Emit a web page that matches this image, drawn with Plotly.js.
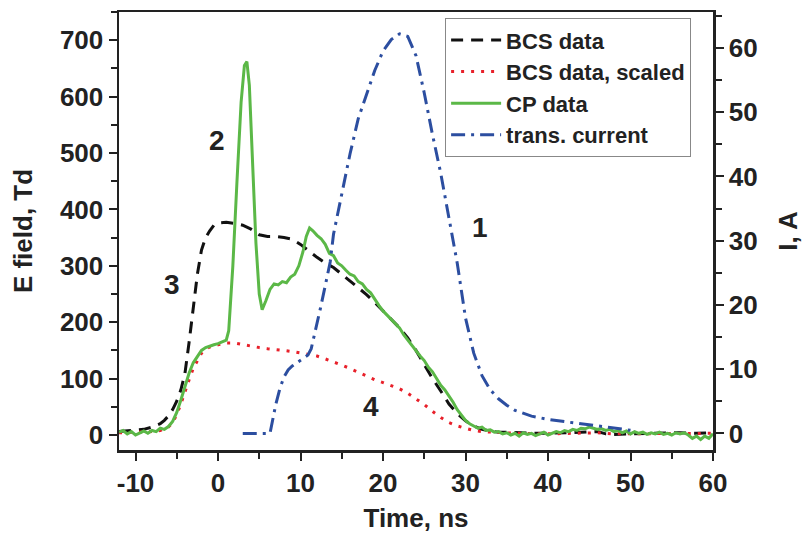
<!DOCTYPE html>
<html>
<head>
<meta charset="utf-8">
<script src="https://cdn.plot.ly/plotly-3.0.1.min.js"></script>
<style>html,body{margin:0;padding:0;background:#fff;}#chart{width:806px;height:533px;}</style>
</head>
<body>
<div id="chart"></div>
<script>
// BCS data (E field, Td)
const bcsTime = [-12,-11,-10,-9,-8,-7,-6.5,-6,-5.5,-5,-4.5,-4,-3.5,-3,-2.5,-2,-1.5,-1,-0.5,0,1,2,3,4,5,6,7,8,9,10,11,12,13,14,15,16,17,18,19,20,21,22,23,24,25,26,27,28,29,30,31,32,33,34,35,36,38,40,42,44,46,47,48,50,52,54,56,58,60];
const bcsField = [6,7,8,10,14,20,26,34,45,60,80,110,165,230,285,328,350,362,372,376,377,375,372,365,355,352,352,350,347,338,326,315,305,297,285,273,262,249,235,220,205,190,172,150,125,100,78,55,38,25,16,10,7,5,5,4,3,3,4,5,6,2,1,2,3,3,4,3,4];

// BCS data, scaled (E field, Td)
const bcsScaledTime = [-12,-10,-8,-7,-6,-5.5,-5,-4.5,-4,-3.5,-3,-2.5,-2,-1.5,-1,0,1,2,3,4,5,6,7,8,9,10,11,12,13,14,15,16,17,18,19,20,21,22,23,24,25,26,27,28,29,30,31,32,34,36,40,44,46,48,52,56,60];
const bcsScaledField = [4,5,6,8,14,22,36,55,78,98,118,133,145,152,156,160,163,163,160,157,155,153,152,150,148,145,142,140,135,130,124,118,111,104,98,93,88,82,74,64,54,42,31,22,16,12,8,6,4,3,2,3,4,2,2,2,3];

// CP data (E field, Td)
const cpTime = [-12,-11.5,-11,-10.5,-10,-9.5,-9,-8.5,-8,-7.5,-7,-6.5,-6,-5.5,-5,-4.5,-4,-3.5,-3,-2.5,-2,-1.5,-1,-0.5,0,0.5,1,1.3,1.8,2.3,2.8,3.2,3.5,3.8,4.2,4.6,5.0,5.35,5.8,6.3,6.8,7.3,7.8,8.3,8.8,9.3,9.8,10.3,10.7,11.1,11.5,12,12.5,13,13.5,14,14.5,15,15.5,16,16.5,17,17.5,18,18.5,19,19.5,20,20.5,21,21.5,22,22.5,23,23.5,24,24.5,25,25.5,26,26.5,27,27.5,28,28.5,29,29.5,30,30.5,31,31.5,32,32.5,33,33.5,34,34.5,35,35.5,36,36.5,37,37.5,38,38.5,39,39.5,40,40.5,41,41.5,42,42.5,43,43.5,44,44.5,45,45.5,46,46.5,47,47.5,48,48.5,49,49.5,50,50.5,51,51.5,52,52.5,53,53.5,54,54.5,55,55.5,56,56.5,57,57.5,58,58.5,59,59.5,60];
const cpField = [5,8,2,6,0,4,7,3,8,6,12,10,15,24,40,62,88,110,128,140,150,155,158,160,162,165,168,185,300,450,590,655,662,620,480,340,250,222,238,258,268,266,272,270,280,285,300,325,352,367,362,354,348,338,322,318,305,300,292,285,282,272,268,258,252,240,230,220,212,205,196,190,178,168,160,150,140,132,120,112,100,88,80,70,58,45,35,26,20,16,12,14,8,9,5,6,2,4,0,3,-2,4,1,3,-1,2,5,0,3,6,4,8,6,10,8,12,11,14,12,10,11,8,10,6,8,4,7,2,6,3,5,1,4,2,5,1,3,0,4,2,4,0,-6,-2,-8,-2,-6,2];

// Transient current (A)
const curTime = [3,6.3,7,7.5,8,8.5,9,9.6,10.3,10.9,11.3,11.6,12,12.4,13,13.6,14,15,16,17,18,19,20,21,22,23,24,25,26,27,28,29,30,31,32,33,34,35,36,38,40,42,44,46,48,50];
const curAmp = [0,0,4.5,7,8.8,9.9,10.5,11,11.6,12.2,13.2,14.8,17,19.4,23,26.7,31,37.5,43.5,49,52.8,56.5,59.5,61.3,62.2,61.8,58.8,53,46.5,40.5,33.5,26.5,18,12.5,9,6.8,5.4,4.4,3.6,2.7,2.2,1.8,1.5,1.2,0.9,0.5];

// Tick labels
const xTickVals = [-10,0,10,20,30,40,50,60];
const xTickText = ["-10","0","10","20","30","40","50","60"];
const yTickVals = [0,100,200,300,400,500,600,700];
const y2TickVals = [0,10,20,30,40,50,60];

// Curve labels
const labelText = ["1","2","3","4"];
const labelX = [31.8,-0.1,-5.6,18.6];
const labelY = [368,523,267,50];

const FONT = "Liberation Sans, Arial, sans-serif";
const ink = "#222";

const traces = [
  {x: bcsTime, y: bcsField, name: "BCS data", mode: "lines", line: {color: "#111", width: 3, dash: "12px,8px"}},
  {x: bcsScaledTime, y: bcsScaledField, name: "BCS data, scaled", mode: "lines", line: {color: "#e8202a", width: 3, dash: "3px,7px"}},
  {x: cpTime, y: cpField, name: "CP data", mode: "lines", line: {color: "#5bb847", width: 3}},
  {x: curTime, y: curAmp, name: "trans. current", mode: "lines", yaxis: "y2", line: {color: "#2c4ea0", width: 3, dash: "14px,6px,3px,6px"}}
];

const tickFont = {family: FONT, size: 26, color: ink, weight: "bold"};
const titleFont = {family: FONT, size: 26, color: ink, weight: "bold"};

const layout = {
  width: 806, height: 533,
  margin: {l: 119, r: 93, t: 12, b: 83},
  paper_bgcolor: "#fff", plot_bgcolor: "#fff",
  showlegend: true,
  legend: {x: 0.549, y: 0.986, xanchor: "left", yanchor: "top", bgcolor: "#fff", bordercolor: "#888", borderwidth: 1,
           font: {family: FONT, size: 22, color: ink, weight: "bold"}, itemwidth: 50, tracegroupgap: 0},
  xaxis: {range: [-12, 60], tickvals: xTickVals, ticktext: xTickText, ticks: "outside", ticklen: 8, tickwidth: 2, tickcolor: ink,
          showline: true, linewidth: 2.5, linecolor: ink, mirror: true, showgrid: false, zeroline: false,
          tickfont: tickFont, minor: {dtick: 5, tick0: 0, ticks: "outside", ticklen: 6, tickwidth: 2, tickcolor: ink, showgrid: false},
          title: {text: "Time, ns", font: titleFont, standoff: 16}},
  yaxis: {range: [-26.6, 750], tickvals: yTickVals, ticks: "outside", ticklen: 8, tickwidth: 2, tickcolor: ink,
          showline: true, linewidth: 2.5, linecolor: ink, showgrid: false, zeroline: false,
          tickfont: tickFont, minor: {dtick: 50, tick0: 0, ticks: "outside", ticklen: 6, tickwidth: 2, tickcolor: ink, showgrid: false},
          title: {text: "E field, Td", font: titleFont, standoff: 20}},
  yaxis2: {overlaying: "y", side: "right", range: [-2.57, 65.6], tickvals: y2TickVals, ticks: "outside", ticklen: 8, tickwidth: 2, tickcolor: ink,
          showline: true, linewidth: 2.5, linecolor: ink, showgrid: false, zeroline: false,
          tickfont: tickFont, minor: {dtick: 5, tick0: 0, ticks: "outside", ticklen: 6, tickwidth: 2, tickcolor: ink, showgrid: false},
          title: {text: "I, A", font: titleFont, standoff: 22}},
  annotations: labelText.map((t, i) => ({x: labelX[i], y: labelY[i], xref: "x", yref: "y", text: t, showarrow: false,
          font: {family: FONT, size: 28, color: ink, weight: "bold"}}))
};

Plotly.newPlot("chart", traces, layout, {displayModeBar: false, staticPlot: true});
</script>
</body>
</html>
